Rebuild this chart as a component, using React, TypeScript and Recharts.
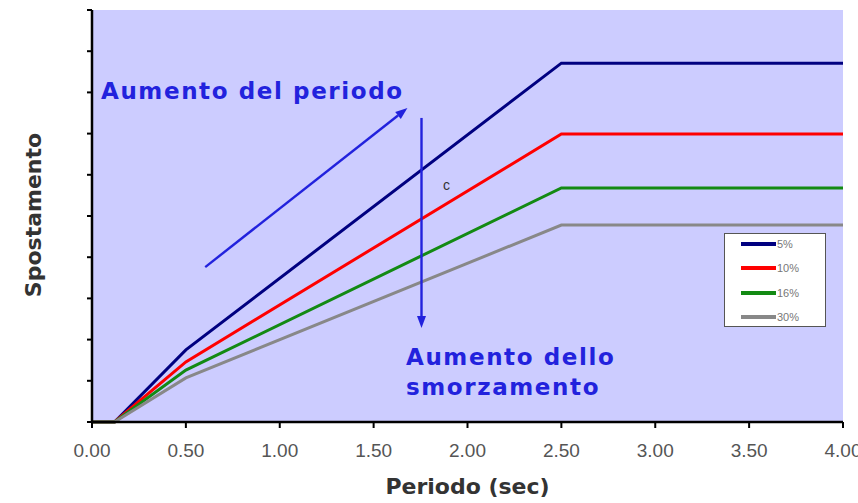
import { LineChart, Line, XAxis, YAxis, CartesianGrid, Legend, ReferenceLine } from "recharts";

// periodo (sec) e spostamenti per i quattro livelli di smorzamento
const periodi = [0, 0.12, 0.5, 2.5, 4.0];
const sp5 = [0, 0, 1.75, 8.71, 8.71];
const sp10 = [0, 0, 1.46, 6.99, 6.99];
const sp16 = [0, 0, 1.26, 5.68, 5.68];
const sp30 = [0, 0, 1.07, 4.78, 4.78];
const smorzamenti = ["5%", "10%", "16%", "30%"];

const xTicks = [0, 0.5, 1, 1.5, 2, 2.5, 3, 3.5, 4];
const yTicks = [0, 1, 2, 3, 4, 5, 6, 7, 8, 9, 10];

// frecce di annotazione (coordinate nei dati)
const frecciaPeriodo = [{ x: 0.603, y: 3.76 }, { x: 1.68, y: 7.62 }];
const frecciaSmorz = [{ x: 1.755, y: 7.38 }, { x: 1.755, y: 2.28 }];

const data = periodi.map((t, i) => ({
  t,
  s5: sp5[i],
  s10: sp10[i],
  s16: sp16[i],
  s30: sp30[i],
}));

const BLU = "#2222dd";
const BOLD = "'DejaVu Sans', Verdana, sans-serif";

function Arrow(props: any) {
  const { x1, y1, x2, y2 } = props;
  const a = Math.atan2(y2 - y1, x2 - x1);
  const len = 12;
  const w = 4.5;
  const bx = x2 - len * Math.cos(a);
  const by = y2 - len * Math.sin(a);
  const px = -Math.sin(a) * w;
  const py = Math.cos(a) * w;
  return (
    <g>
      <line x1={x1} y1={y1} x2={bx} y2={by} stroke={BLU} strokeWidth={2.4} />
      <polygon points={`${x2},${y2} ${bx + px},${by + py} ${bx - px},${by - py}`} fill={BLU} />
    </g>
  );
}

function LegendBox({ payload }: any) {
  const items = [...(payload || [])].sort(
    (a: any, b: any) => smorzamenti.indexOf(a.value) - smorzamenti.indexOf(b.value)
  );
  return (
    <div
      style={{
        width: 102,
        height: 94,
        background: "#fff",
        border: "1px solid #555",
        boxSizing: "border-box",
        overflow: "hidden",
      }}
    >
      <div style={{ marginTop: -2 }}>
        {items.map((p: any) => (
          <div key={p.value} style={{ display: "flex", alignItems: "center", height: 24.3, lineHeight: "12px" }}>
            <div style={{ width: 35, height: 4, background: p.color, marginLeft: 16 }} />
            <span style={{ fontFamily: "'Liberation Sans', Arial", fontSize: 11, color: "#777", marginLeft: 1 }}>
              {p.value}
            </span>
          </div>
        ))}
      </div>
    </div>
  );
}

export default function App() {
  return (
    <div style={{ position: "relative", width: 858, height: 503, background: "#fff" }}>
      <style>{"body{margin:0}"}</style>
      <LineChart width={858} height={503} data={data} margin={{ top: 10, right: 15, left: 0, bottom: 0 }}>
        <CartesianGrid fill="#ccccff" horizontal={false} vertical={false} />
        <XAxis
          dataKey="t"
          type="number"
          domain={[0, 4]}
          ticks={xTicks}
          tickFormatter={(v: number) => v.toFixed(2)}
          height={81}
          tickSize={6}
          tickMargin={16}
          axisLine={{ stroke: "#000", strokeWidth: 2.5 }}
          tickLine={{ stroke: "#000", strokeWidth: 2 }}
          tick={{ fill: "#555", fontSize: 19, fontFamily: "'Liberation Sans', Arial" }}
          interval={0}
          label={{
            value: "Periodo (sec)",
            position: "insideBottom",
            offset: 9,
            fill: "#333",
            fontSize: 22,
            fontWeight: "bold",
            fontFamily: BOLD,
          }}
        />
        <YAxis
          type="number"
          domain={[0, 10]}
          ticks={yTicks}
          width={92}
          tickSize={5}
          tickFormatter={() => ""}
          axisLine={{ stroke: "#000", strokeWidth: 2.5 }}
          tickLine={{ stroke: "#000", strokeWidth: 2 }}
        />
        <Legend
          layout="vertical"
          align="center"
          verticalAlign="middle"
          wrapperStyle={{ left: 724, top: 233, width: 102 }}
          content={<LegendBox />}
        />
        <Line type="linear" dataKey="s5" name={smorzamenti[0]} stroke="#000080" strokeWidth={3} dot={false} isAnimationActive={false} />
        <Line type="linear" dataKey="s10" name={smorzamenti[1]} stroke="#ff0000" strokeWidth={3} dot={false} isAnimationActive={false} />
        <Line type="linear" dataKey="s16" name={smorzamenti[2]} stroke="#138a13" strokeWidth={3} dot={false} isAnimationActive={false} />
        <Line type="linear" dataKey="s30" name={smorzamenti[3]} stroke="#888888" strokeWidth={3} dot={false} isAnimationActive={false} />
        <ReferenceLine segment={frecciaPeriodo} shape={Arrow} />
        <ReferenceLine segment={frecciaSmorz} shape={Arrow} />
      </LineChart>

      <div
        style={{
          position: "absolute",
          left: 33,
          top: 215,
          transform: "translate(-50%, -50%) rotate(-90deg)",
          fontFamily: BOLD,
          fontWeight: "bold",
          fontSize: 22,
          color: "#333",
          whiteSpace: "nowrap",
        }}
      >
        Spostamento
      </div>
      <div
        style={{
          position: "absolute",
          left: 101,
          top: 76,
          fontFamily: BOLD,
          fontWeight: "bold",
          fontSize: 23,
          letterSpacing: 1.6,
          color: BLU,
          whiteSpace: "nowrap",
          lineHeight: "30px",
        }}
      >
        Aumento del periodo
      </div>
      <div
        style={{
          position: "absolute",
          left: 406,
          top: 342,
          fontFamily: BOLD,
          fontWeight: "bold",
          fontSize: 23,
          letterSpacing: 1.6,
          color: BLU,
          whiteSpace: "nowrap",
          lineHeight: "30px",
        }}
      >
        Aumento dello
        <br />
        smorzamento
      </div>
      <div
        style={{
          position: "absolute",
          left: 443,
          top: 177,
          fontFamily: "'Liberation Sans', Arial",
          fontSize: 14,
          color: "#333",
        }}
      >
        c
      </div>
    </div>
  );
}
